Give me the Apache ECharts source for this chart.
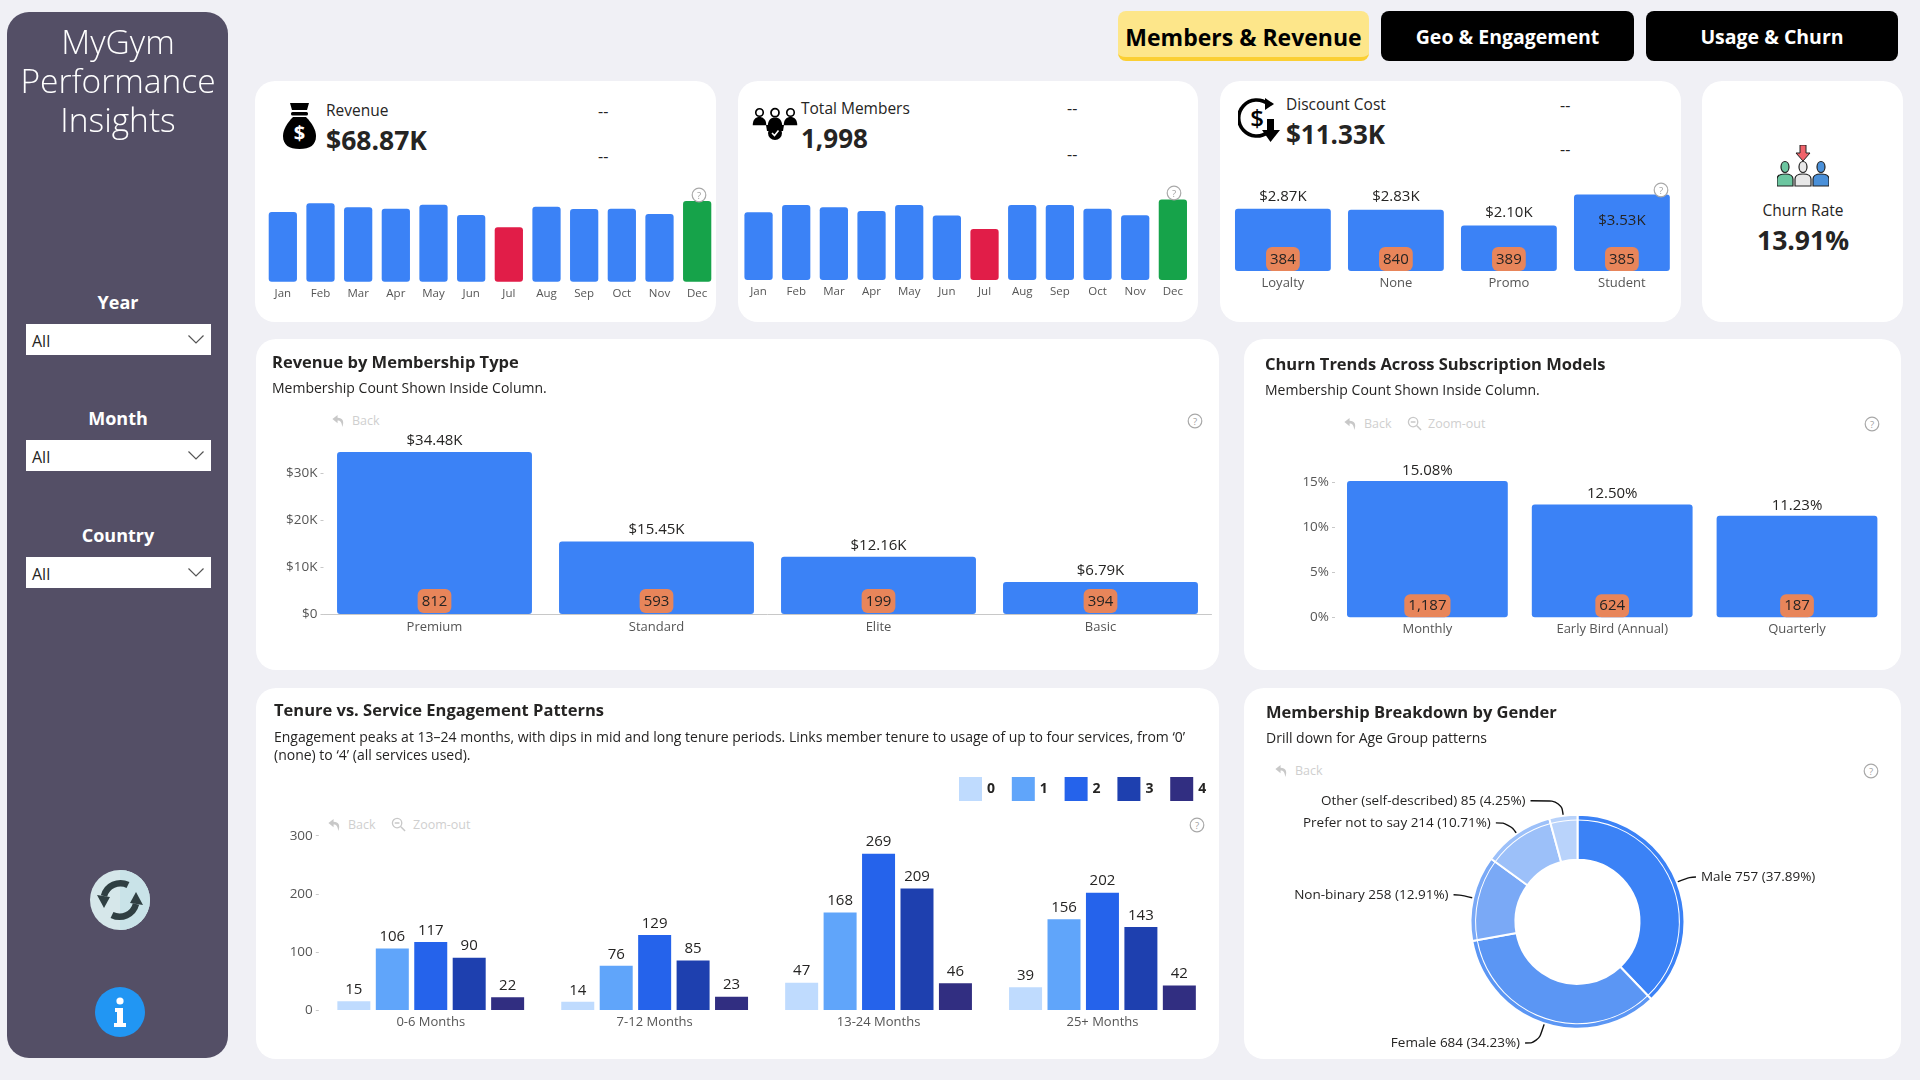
<!DOCTYPE html>
<html>
<head>
<meta charset="utf-8">
<title>MyGym Performance Insights</title>
<script src="https://cdn.jsdelivr.net/npm/echarts@6/dist/echarts.min.js"></script>
<style>
html,body{margin:0;padding:0;width:1920px;height:1080px;overflow:hidden;background:#f0f0f5;font-family:"Open Sans",sans-serif;color:#252423}
.card,.side,.btn,.box,.t,svg.ic,#chart{position:absolute}
.card{background:#fff;border-radius:20px}
.side{left:7px;top:12px;width:221px;height:1046px;background:#544f66;border-radius:22px}
.btn{top:11px;height:50px;border-radius:8px;background:#000;color:#fff;font-weight:700;display:flex;align-items:center;justify-content:center;white-space:nowrap;box-sizing:border-box}
.t{white-space:nowrap;line-height:1;transform:translateY(-50%)}
.c{transform:translate(-50%,-50%);text-align:center}
.box{left:26px;width:185px;height:31px;background:#fff}
.back{color:#cfcfcf;font-size:12.5px}
#chart{left:0;top:0;width:1920px;height:1080px;z-index:2}
.top{z-index:3}
</style>
</head>
<body>
<svg width="0" height="0" style="position:absolute">
<defs>
<symbol id="q" viewBox="0 0 20 20"><circle cx="10" cy="10" r="8.5" fill="#fff" stroke="#a8a8a8" stroke-width="1.5"/><text x="10" y="14.5" text-anchor="middle" font-size="12" font-family="Open Sans" fill="#a0a0a0">?</text></symbol>
<symbol id="bk" viewBox="0 0 16 16"><path d="M7 2 L1.5 6.5 L7 11 V8 C10 8 11.5 10 12 15 C14.5 9 12.5 5 7 5 Z" fill="#c8c8c8"/></symbol>
<symbol id="zo" viewBox="0 0 16 16"><circle cx="6.5" cy="6.5" r="5" fill="none" stroke="#c8c8c8" stroke-width="1.4"/><path d="M4 6.5H9M10.5 10.5L15 15" stroke="#c8c8c8" stroke-width="1.6"/></symbol>
<symbol id="chev" viewBox="0 0 16 9"><path d="M0.5 0.5L8 8L15.5 0.5" fill="none" stroke="#555" stroke-width="1.2"/></symbol>
<symbol id="pers" viewBox="0 0 20 24"><circle cx="10" cy="6" r="5" fill="#fff" stroke="#000" stroke-width="2.2"/><path d="M1 23C1 15 5 12 10 12S19 15 19 23Z" fill="#000"/></symbol>
</defs>
</svg>

<div class="side"></div>
<div class="t c top" style="left:118px;top:42px;font-size:33.5px;font-weight:300;color:#fff">MyGym</div>
<div class="t c top" style="left:118px;top:81px;font-size:33.5px;font-weight:300;color:#fff">Performance</div>
<div class="t c top" style="left:118px;top:120px;font-size:33.5px;font-weight:300;color:#fff">Insights</div>

<div class="t c" style="left:118px;top:302px;font-size:18px;font-weight:700;color:#fff">Year</div>
<div class="box" style="top:324px"></div>
<div class="t" style="left:32px;top:341px;font-size:16px">All</div>
<svg class="ic" style="left:188px;top:335px" width="16" height="9"><use href="#chev"/></svg>
<div class="t c" style="left:118px;top:418px;font-size:18px;font-weight:700;color:#fff">Month</div>
<div class="box" style="top:440px"></div>
<div class="t" style="left:32px;top:457px;font-size:16px">All</div>
<svg class="ic" style="left:188px;top:451px" width="16" height="9"><use href="#chev"/></svg>
<div class="t c" style="left:118px;top:535px;font-size:18px;font-weight:700;color:#fff">Country</div>
<div class="box" style="top:557px"></div>
<div class="t" style="left:32px;top:574px;font-size:16px">All</div>
<svg class="ic" style="left:188px;top:568px" width="16" height="9"><use href="#chev"/></svg>

<svg class="ic" style="left:90px;top:870px" width="60" height="60" viewBox="0 0 60 60">
<circle cx="30" cy="30" r="30" fill="#d6e7ea"/><path d="M30 0A30 30 0 0 1 30 60Z" fill="#c9e3e8"/>
<g fill="none" stroke="#2f3f42" stroke-width="6.5"><path d="M14 26A17 17 0 0 1 38 15"/><path d="M46 34A17 17 0 0 1 22 45"/></g>
<path d="M7 25L20 27L14 38Z" fill="#2f3f42"/><path d="M53 35L40 33L46 22Z" fill="#2f3f42"/>
</svg>
<svg class="ic" style="left:95px;top:987px" width="50" height="50" viewBox="0 0 50 50">
<circle cx="25" cy="25" r="25" fill="#2196f3"/><circle cx="25" cy="14" r="3.6" fill="#fff"/>
<path d="M20 21H28V36H31V40H19V36H22V25H20Z" fill="#fff"/>
</svg>

<div class="btn" style="left:1118px;width:251px;background:#fde68a;color:#000;font-size:23px;border-bottom:4px solid #fbcf33;padding-top:6px">Members &amp; Revenue</div>
<div class="btn" style="left:1381px;width:253px;font-size:19.5px">Geo &amp; Engagement</div>
<div class="btn" style="left:1646px;width:252px;font-size:19.5px">Usage &amp; Churn</div>

<div class="card" style="left:255px;top:81px;width:461px;height:241px"></div>
<div class="card" style="left:738px;top:81px;width:460px;height:241px"></div>
<div class="card" style="left:1220px;top:81px;width:461px;height:241px"></div>
<div class="card" style="left:1702px;top:81px;width:201px;height:241px"></div>
<div class="card" style="left:256px;top:339px;width:963px;height:331px"></div>
<div class="card" style="left:1244px;top:339px;width:657px;height:331px"></div>
<div class="card" style="left:256px;top:688px;width:963px;height:371px"></div>
<div class="card" style="left:1244px;top:688px;width:657px;height:371px"></div>

<!-- KPI headers -->
<svg class="ic" style="left:283px;top:103px" width="33" height="46" viewBox="0 0 33 46">
<path d="M7 0H26L24 7H9Z" fill="#000"/><rect x="8" y="9" width="17" height="3.5" rx="1.5" fill="#000"/>
<path d="M10 14H23C29 20 33 27 33 33C33 42 27 46 16.5 46S0 42 0 33C0 27 4 20 10 14Z" fill="#000"/>
<text x="16.5" y="37" text-anchor="middle" font-size="20" font-weight="700" font-family="Open Sans" fill="#fff">$</text></svg>
<div class="t" style="left:326px;top:111px;font-size:15.5px">Revenue</div>
<div class="t" style="left:326px;top:140px;font-size:26.5px;font-weight:700">$68.87K</div>
<div class="t" style="left:598px;top:111px;font-size:16px">--</div>
<div class="t" style="left:598px;top:156px;font-size:16px">--</div>

<svg class="ic" style="left:752px;top:107px" width="46" height="34" viewBox="0 0 46 34">
<use href="#pers" x="0" y="0" width="15" height="20"/><use href="#pers" x="31" y="0" width="15" height="20"/><use href="#pers" x="15" y="0" width="16" height="21"/>
<path d="M14 18H32L31 24H15Z" fill="#000"/><circle cx="23" cy="26" r="7" fill="#000"/><path d="M20 26L22.5 28.5L26.5 23.5" fill="none" stroke="#fff" stroke-width="1.6"/></svg>
<div class="t" style="left:801px;top:109px;font-size:15.5px">Total Members</div>
<div class="t" style="left:801px;top:138px;font-size:26px;font-weight:700">1,998</div>
<div class="t" style="left:1067px;top:108px;font-size:16px">--</div>
<div class="t" style="left:1067px;top:154px;font-size:16px">--</div>

<svg class="ic" style="left:1238px;top:98px" width="42" height="44" viewBox="0 0 42 44">
<path d="M30 34A18 18 0 1 1 30 6" fill="none" stroke="#000" stroke-width="3.6"/><path d="M27 0L36 6L27 12Z" fill="#000"/>
<text x="19" y="29" text-anchor="middle" font-size="24" font-weight="600" font-family="Open Sans" fill="#000">$</text>
<path d="M29 21H36V32H42L32.5 44L24 32H29Z" fill="#000"/></svg>
<div class="t" style="left:1286px;top:105px;font-size:15.5px">Discount Cost</div>
<div class="t" style="left:1286px;top:134px;font-size:26px;font-weight:700">$11.33K</div>
<div class="t" style="left:1560px;top:105px;font-size:16px">--</div>
<div class="t" style="left:1560px;top:149px;font-size:16px">--</div>

<svg class="ic" style="left:1777px;top:145px" width="52" height="42" viewBox="0 0 52 42">
<path d="M23 0H29V8H33L26 16L19 8H23Z" fill="#f0626a" stroke="#222" stroke-width="1"/>
<g stroke="#222" stroke-width="1.2"><ellipse cx="8" cy="22" rx="4" ry="5.5" fill="#6cc6a0"/><path d="M0 41V34C0 30 4 29 8 29S16 30 16 34V41Z" fill="#6cc6a0"/>
<ellipse cx="44" cy="22" rx="4" ry="5.5" fill="#4a90d9"/><path d="M36 41V34C36 30 40 29 44 29S52 30 52 34V41Z" fill="#4a90d9"/>
<ellipse cx="26" cy="22" rx="4" ry="5.5" fill="#e8e8e8"/><path d="M18 41V34C18 30 22 29 26 29S34 30 34 34V41Z" fill="#e8e8e8"/></g></svg>
<div class="t c" style="left:1803px;top:211px;font-size:15.5px">Churn Rate</div>
<div class="t c" style="left:1803px;top:240px;font-size:26.5px;font-weight:700">13.91%</div>

<!-- report toolbar marks -->
<svg class="ic top" style="left:691px;top:187px" width="16" height="16"><use href="#q"/></svg>
<svg class="ic top" style="left:1166px;top:185px" width="16" height="16"><use href="#q"/></svg>
<svg class="ic top" style="left:1653px;top:182px" width="16" height="16"><use href="#q"/></svg>

<svg class="ic" style="left:331px;top:413px" width="15" height="15"><use href="#bk"/></svg><div class="t back" style="left:352px;top:421px">Back</div>
<svg class="ic" style="left:1187px;top:413px" width="16" height="16"><use href="#q"/></svg>

<svg class="ic" style="left:1343px;top:416px" width="15" height="15"><use href="#bk"/></svg><div class="t back" style="left:1364px;top:424px">Back</div>
<svg class="ic" style="left:1407px;top:416px" width="15" height="15"><use href="#zo"/></svg><div class="t back" style="left:1428px;top:424px">Zoom-out</div>
<svg class="ic" style="left:1864px;top:416px" width="16" height="16"><use href="#q"/></svg>

<svg class="ic" style="left:327px;top:817px" width="15" height="15"><use href="#bk"/></svg><div class="t back" style="left:348px;top:825px">Back</div>
<svg class="ic" style="left:391px;top:817px" width="15" height="15"><use href="#zo"/></svg><div class="t back" style="left:413px;top:825px">Zoom-out</div>
<svg class="ic" style="left:1189px;top:817px" width="16" height="16"><use href="#q"/></svg>

<svg class="ic" style="left:1274px;top:763px" width="15" height="15"><use href="#bk"/></svg><div class="t back" style="left:1295px;top:771px">Back</div>
<svg class="ic" style="left:1863px;top:763px" width="16" height="16"><use href="#q"/></svg>

<div id="chart"></div>

<script>
var months = ['Jan','Feb','Mar','Apr','May','Jun','Jul','Aug','Sep','Oct','Nov','Dec'];
var monthlyRevenue = [5560,6260,5940,5830,6150,5330,4340,5990,5800,5830,5400,6440];
var monthlyMembers = [161,178,173,164,178,153,121,178,178,169,154,191];

var discountTypes = ['Loyalty','None','Promo','Student'];
var discountCost = [2870,2830,2100,3530];
var discountCount = [384,840,389,385];

var membershipTypes = ['Premium','Standard','Elite','Basic'];
var membershipRevenue = [34480,15450,12160,6790];
var membershipCount = [812,593,199,394];

var subscriptionModels = ['Monthly','Early Bird (Annual)','Quarterly'];
var churnRate = [15.08,12.50,11.23];
var subscriptionCount = [1187,624,187];

var tenureBands = ['0-6 Months','7-12 Months','13-24 Months','25+ Months'];
var servicesUsed0 = [15,14,47,39];
var servicesUsed1 = [106,76,168,156];
var servicesUsed2 = [117,129,269,202];
var servicesUsed3 = [90,85,209,143];
var servicesUsed4 = [22,23,46,42];

var genders = ['Male','Female','Non-binary','Prefer not to say','Other (self-described)'];
var genderCount = [757,684,258,214,85];
var genderShare = ['37.89%','34.23%','12.91%','10.71%','4.25%'];

var BLUE='#3b82f6', RED='#e11d48', GREEN='#16a34a', ORANGE='#e8855a', INK='#252423', AXIS='#555555';
var FONT='"Open Sans",sans-serif';
var k2 = function(v){return '$'+(v/1000).toFixed(2)+'K';};
var pct2 = function(v){return v.toFixed(2)+'%';};
var num = function(v){return v.toLocaleString('en-US');};

function catAxis(gridIndex,data,size,margin,line){
  return {type:'category',gridIndex:gridIndex,data:data,
    axisTick:{show:false},
    axisLine:{show:!!line,lineStyle:{color:'#c8c8c8',width:1}},
    axisLabel:{color:AXIS,fontFamily:FONT,fontSize:size,margin:margin,interval:0}};
}
function hiddenAxis(gridIndex,max){return {type:'value',gridIndex:gridIndex,show:false,min:0,max:max,splitLine:{show:false}};}
function valAxis(gridIndex,max,ticks,fmt){
  return {type:'value',gridIndex:gridIndex,min:0,max:max,splitLine:{show:false},axisLine:{show:false},
    axisTick:{show:true,length:3,lineStyle:{color:'#c8c8c8'},customValues:ticks},
    axisLabel:{color:AXIS,fontFamily:FONT,fontSize:13.5,margin:6,padding:[2,0,0,0],customValues:ticks,formatter:fmt}};
}
function badges(name,axis,cats,counts,distance,pad){
  return {name:name,type:'bar',xAxisIndex:axis,yAxisIndex:axis,barGap:'-100%',silent:true,z:5,
    itemStyle:{color:'transparent'},
    data:counts.map(function(c,i){return {value:cats[i],count:c};}),
    label:{show:true,position:'insideBottom',distance:distance,color:INK,fontFamily:FONT,fontSize:15,lineHeight:17,
      backgroundColor:ORANGE,borderRadius:6,padding:pad,
      formatter:function(p){return num(p.data.count);}}};
}
function extremes(values){
  var hi=Math.max.apply(null,values), lo=Math.min.apply(null,values);
  return function(p){return p.value===hi?GREEN:(p.value===lo?RED:BLUE);};
}
function titleAt(text,left,top,bold,size){
  return {text:text,left:left,top:top,padding:0,itemGap:0,
    textStyle:{fontFamily:FONT,fontSize:size,fontWeight:bold?'bold':'normal',color:INK,lineHeight:size+4}};
}
function tenureSeries(name,values,color){
  return {name:name,type:'bar',xAxisIndex:5,yAxisIndex:5,barWidth:33,barGap:'16.5%',data:values,itemStyle:{color:color},
    label:{show:true,position:'top',distance:4,color:INK,fontFamily:FONT,fontSize:15}};
}

var option = {
  animation:false,
  textStyle:{fontFamily:FONT},
  title:[
    titleAt('Revenue by Membership Type',272,353,true,16.5),
    titleAt('Membership Count Shown Inside Column.',272,380,false,14),
    titleAt('Churn Trends Across Subscription Models',1265,355,true,16.5),
    titleAt('Membership Count Shown Inside Column.',1265,382,false,14),
    titleAt('Tenure vs. Service Engagement Patterns',274,701,true,16.5),
    titleAt('Engagement peaks at 13\u201324 months, with dips in mid and long tenure periods. Links member tenure to usage of up to four services, from \u20180\u2019',274,729,false,14),
    titleAt('(none) to \u20184\u2019 (all services used).',274,747,false,14),
    titleAt('Membership Breakdown by Gender',1266,703,true,16.5),
    titleAt('Drill down for Age Group patterns',1266,730,false,14)
  ],
  legend:{left:959,top:777,orient:'horizontal',itemWidth:23,itemHeight:24,itemGap:16.8,padding:0,
    icon:'rect',selectedMode:false,data:['0','1','2','3','4'],
    textStyle:{fontFamily:FONT,fontSize:14,fontWeight:'bold',color:INK,padding:[0,0,0,0]}},
  grid:[
    {left:264,top:200.3,width:452,height:81.4},
    {left:739.7,top:195.8,width:452,height:84.2},
    {left:1226.4,top:193,width:452,height:78},
    {left:323.5,top:449.5,width:888,height:164.5},
    {left:1335,top:477.3,width:554.4,height:140},
    {left:318.8,top:835.7,width:895.6,height:174.3}
  ],
  xAxis:[
    catAxis(0,months,11.5,6),
    catAxis(1,months,11.5,6),
    catAxis(2,discountTypes,13,6),
    catAxis(3,membershipTypes,13,7,true),
    catAxis(4,subscriptionModels,13,5),
    catAxis(5,tenureBands,13,6)
  ],
  yAxis:[
    hiddenAxis(0,6500),
    hiddenAxis(1,200),
    hiddenAxis(2,3600),
    valAxis(3,35000,[0,10000,20000,30000],function(v){return v===0?'$0':'$'+(v/1000)+'K';}),
    valAxis(4,15.5,[0,5,10,15],function(v){return v+'%';}),
    valAxis(5,300,[0,100,200,300],function(v){return v;})
  ],
  series:[
    {name:'Revenue',type:'bar',xAxisIndex:0,yAxisIndex:0,barCategoryGap:'25%',data:monthlyRevenue,
      itemStyle:{color:extremes(monthlyRevenue),borderRadius:3}},
    {name:'Total Members',type:'bar',xAxisIndex:1,yAxisIndex:1,barCategoryGap:'25%',data:monthlyMembers,
      itemStyle:{color:extremes(monthlyMembers),borderRadius:3}},
    {name:'Discount Cost',type:'bar',xAxisIndex:2,yAxisIndex:2,barCategoryGap:'15.2%',barGap:'-100%',
      data:discountCost.map(function(v){
        return v===Math.max.apply(null,discountCost)
          ? {value:v,label:{position:'insideTop',distance:19}} : v;}),
      itemStyle:{color:BLUE,borderRadius:3},
      label:{show:true,position:'top',distance:5,color:INK,fontFamily:FONT,fontSize:15,formatter:function(p){return k2(p.value);}}},
    badges('Discount count',2,discountCost,discountCount,0,[4,4,3,4]),
    {name:'Revenue by type',type:'bar',xAxisIndex:3,yAxisIndex:3,barCategoryGap:'12.2%',barGap:'-100%',data:membershipRevenue,
      itemStyle:{color:BLUE,borderRadius:3},
      label:{show:true,position:'top',distance:4,color:INK,fontFamily:FONT,fontSize:15,formatter:function(p){return k2(p.value);}}},
    badges('Membership count',3,membershipRevenue,membershipCount,1,[4,4,3,4]),
    {name:'Churn rate',type:'bar',xAxisIndex:4,yAxisIndex:4,barCategoryGap:'13%',barGap:'-100%',data:churnRate,
      itemStyle:{color:BLUE,borderRadius:3},
      label:{show:true,position:'top',distance:3,color:INK,fontFamily:FONT,fontSize:15,formatter:function(p){return pct2(p.value);}}},
    badges('Subscription count',4,churnRate,subscriptionCount,0,[3,4,3,4]),
    tenureSeries('0',servicesUsed0,'#bfdbfe'),
    tenureSeries('1',servicesUsed1,'#60a5fa'),
    tenureSeries('2',servicesUsed2,'#2563eb'),
    tenureSeries('3',servicesUsed3,'#1e40af'),
    tenureSeries('4',servicesUsed4,'#312e81'),
    {name:'Gender',type:'pie',center:[1577.5,921.8],radius:[62,107],startAngle:90,clockwise:true,avoidLabelOverlap:false,
      itemStyle:{borderColor:'#fff',borderWidth:2},
      label:{show:true,color:INK,fontFamily:FONT,fontSize:13.5,formatter:function(p){return p.name+' '+num(p.value)+' ('+genderShare[p.dataIndex]+')';}},
      labelLine:{show:true,smooth:0.45,lineStyle:{color:'#111',width:1.4}},
      data:genders.map(function(g,i){
        var colors=['#3b82f6','#5b96f4','#7aa9f6','#9cc0f9','#b9d3fb'];
        var len=[13.5,20.4,14,13.2,15.2], len2=[6.6,13,6,13.4,30.7];
        return {name:g,value:genderCount[i],itemStyle:{color:colors[i]},labelLine:{length:len[i],length2:len2[i]}};
      })},
    {name:'Gender ring',type:'pie',center:[1577.5,921.8],radius:[101.4,102.4],startAngle:90,clockwise:true,silent:true,z:3,
      label:{show:false},labelLine:{show:false},itemStyle:{color:'#ffffff'},
      data:genderCount.map(function(v){return {value:v};})}
  ]
};
var chart = echarts.init(document.getElementById('chart'),null,{renderer:'canvas'});
chart.setOption(option);
</script>
</body>
</html>
